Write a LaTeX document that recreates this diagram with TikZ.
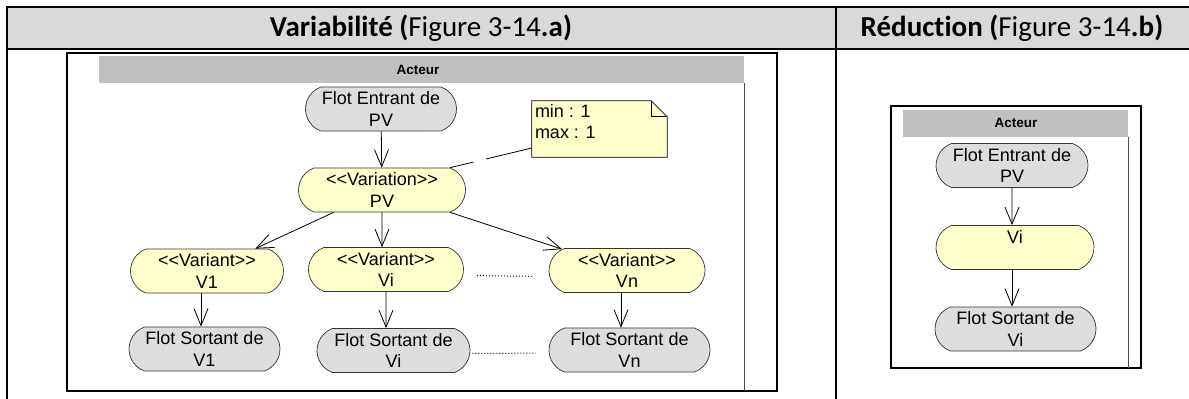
\documentclass[tikz,border=0pt]{standalone}
\usepackage{fontspec}
\setmainfont{Liberation Sans}[Ligatures=TeXOff]
\newfontfamily\hdrfont{Carlito}[Ligatures=NoCommon]
\usetikzlibrary{shapes.misc,arrows.meta}
\definecolor{hdrgray}{HTML}{D9D9D9}
\definecolor{lanegray}{HTML}{C0C0C0}
\definecolor{flotgray}{HTML}{DDDDDD}
\definecolor{varyellow}{HTML}{FFFFCC}
\tikzstyle{tablerule}=[line width=2pt, black]
\tikzstyle{frame}=[line width=2.4pt, black]
\tikzstyle{lane}=[line width=0.8pt, black!70]
\tikzstyle{header}=[font=\hdrfont\fontsize{29}{33}\selectfont, inner sep=0pt]
\tikzstyle{actor}=[font=\bfseries\fontsize{13.5}{16}\selectfont, inner sep=0pt]
\tikzstyle{flow}=[rounded rectangle, rounded rectangle arc length=140, draw=black!80, line width=0.7pt, fill=flotgray, align=center, font=\fontsize{18}{21.5}\selectfont, inner xsep=0pt, inner ysep=0pt, minimum height=44pt]
\tikzstyle{vari}=[flow, fill=varyellow]
\tikzstyle{link}=[line width=0.8pt, -{Straight Barb[length=17pt,width=14pt]}]
\tikzstyle{dots}=[line width=1pt, dash pattern=on 1pt off 2pt]

\begin{document}
\begin{tikzpicture}[x=1pt, y=-1pt]
\useasboundingbox (0,0) rectangle (1189,399);
% Table
    \fill[hdrgray] (7,7) rectangle (1189,49);
    \draw[tablerule] (7,399) -- (7,7) -- (1189,7);
    \draw[tablerule] (7,49) -- (1189,49);
    \draw[tablerule] (836,7) -- (836,399);
    \node[header] (hdrA) at (421,28) {\textbf{Variabilité (}Figure 3-14\textbf{.a)}};
    \node[header] (hdrB) at (1012,28) {\textbf{Réduction (}Figure 3-14\textbf{.b)}};
% Variability diagram
    \draw[frame] (67,53) rectangle (777,391);
    \fill[lanegray] (99,56) rectangle (744,83);
    \draw[lane] (744,83) -- (744,391);
    \node[actor] (laneA) at (418,69.5) {Acteur};
    \node[flow, minimum width=151pt] (inPV) at (381,109) {Flot Entrant de\\PV};
    \node[vari, minimum width=167pt] (varPV) at (382,190) {<<Variation>>\\PV};
    \node[vari, minimum width=153pt] (v1) at (207,271) {<<Variant>>\\V1};
    \node[vari, minimum width=155pt] (vi) at (386,269.5) {<<Variant>>\\Vi};
    \node[vari, minimum width=156pt] (vn) at (627,270.5) {<<Variant>>\\Vn};
    \node[flow, minimum width=151pt] (out1) at (204.5,349) {Flot Sortant de\\V1};
    \node[flow, minimum width=153pt] (outi) at (393.5,350.5) {Flot Sortant de\\Vi};
    \node[flow, minimum width=161pt] (outn) at (629.5,350) {Flot Sortant de\\Vn};
% Note
    \node[minimum width=135pt, minimum height=56pt, inner sep=0pt] (note) at (599.5,129) {};
    \fill[varyellow] (note.south west) -- (note.north west) -- ([xshift=-16pt]note.north east)
        -- ([yshift=-16pt]note.north east) -- (note.south east) -- cycle;
    \draw[line width=0.8pt] (note.south west) -- (note.north west) -- ([xshift=-16pt]note.north east)
        -- ([yshift=-16pt]note.north east) -- (note.south east) -- cycle;
    \draw[line width=0.8pt] ([xshift=-16pt]note.north east) -- ([xshift=-16pt,yshift=-16pt]note.north east)
        -- ([yshift=-16pt]note.north east);
    \node[anchor=north west, align=left, inner sep=0pt, font=\fontsize{18}{21.5}\selectfont]
        (noteText) at ([xshift=3pt,yshift=-3pt]note.north west) {min : 1\\max : 1};
    \draw[line width=0.8pt, dash pattern=on 47pt off 13pt on 40pt] ([yshift=-19pt]note.west) -- (varPV.north east);
% Arrows
    \draw[link] (inPV) -- (varPV);
    \draw[link] (varPV) -- (v1);
    \draw[link] (varPV) -- (varPV |- vi.north);
    \draw[link] (varPV) -- (vn);
    \draw[link] ([xshift=-6pt]v1.south) -- ([xshift=-6pt]v1.south |- out1.north);
    \draw[link] (vi) -- (vi |- outi.north);
    \draw[link] ([xshift=-6pt]vn.south) -- ([xshift=-6pt]vn.south |- outn.north);
    \draw[dots, shorten <=13pt, shorten >=17pt] ([yshift=-6pt]vi.east) -- ([yshift=-6pt]vn.west);
    \draw[dots, shorten <=2pt, shorten >=13pt] ([yshift=-3pt]outi.east) -- ([yshift=-3pt]outn.west);
% Reduction diagram
    \draw[frame] (891,106) rectangle (1141,368);
    \fill[lanegray] (903,110) rectangle (1128,137);
    \draw[lane] (1128,137) -- (1128,368);
    \node[actor] (laneB) at (1016,123) {Acteur};
    \node[flow, minimum width=152pt] (rIn) at (1012,165.5) {Flot Entrant de\\PV};
    \node[vari, minimum width=158pt] (rVi) at (1015,247.5) {Vi\\~};
    \node[flow, minimum width=161pt] (rOut) at (1015.5,329) {Flot Sortant de\\Vi};
    \draw[link] (rIn) -- (rIn |- rVi.north);
    \draw[link] (rVi.south -| rIn) -- (rOut.north -| rIn);
\end{tikzpicture}
\end{document}
